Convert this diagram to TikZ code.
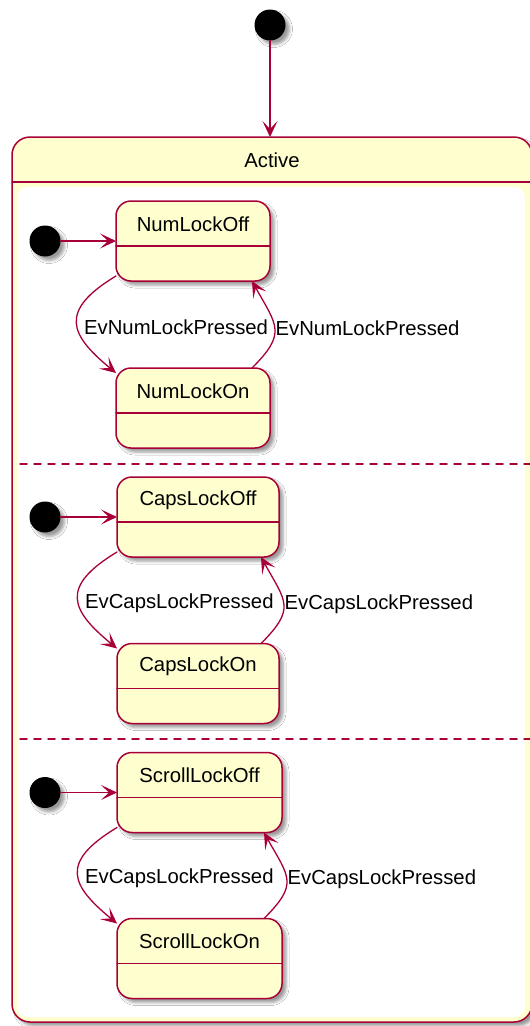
\documentclass[tikz,border=0pt]{standalone}
\usepackage{fontspec}
\setmainfont{Liberation Sans}
\usepackage{tikz}
\usetikzlibrary{arrows.meta,shadows.blur}
\definecolor{umlred}{HTML}{A80036}
\definecolor{umlfill}{HTML}{FEFECE}

\begin{document}
\begin{tikzpicture}[x=1pt,y=-1pt,>={Stealth[length=16pt,width=15pt,inset=8pt]},
  font=\fontsize{20.3}{24}\selectfont,line cap=round,
  shade/.style={blur shadow={shadow xshift=4pt,shadow yshift=-4pt,shadow blur radius=3pt,shadow opacity=40}},
  title/.style={label={[anchor=center,yshift=-23pt,inner sep=0pt]north:#1}},
  state/.style={draw=umlred,fill=umlfill,line width=1.5pt,rounded corners=15pt,
    minimum height=80pt,outer sep=0pt,inner sep=0pt,shade},
  init/.style={circle,fill=black,minimum size=31pt,inner sep=0pt,shade},
  trans/.style={->,draw=umlred,line width=1.3pt},
  lbl/.style={text=black,inner sep=2.5pt,anchor=west},
  sepline/.style={draw=umlred,line width=1.5pt},
  part/.style={draw=umlred,line width=1.5pt,dash pattern=on 7pt off 7pt}]
\clip (0,0) rectangle (530,1026);
\fill[white] (0,0) rectangle (530,1026);

\node[init] (start) at (270,25) {};
\node[draw=umlred,fill=umlfill,line width=1.5pt,rounded corners=18pt,minimum width=520pt,
  minimum height=885pt,outer sep=0pt,shade,title=Active] (active) at (272,579.5) {};
\draw[sepline] ([yshift=-45pt]active.north west) -- ([yshift=-45pt]active.north east);
\fill[white,rounded corners=10pt] ([shift={(5pt,-50pt)}]active.north west) rectangle ([shift={(-7pt,5pt)}]active.south east);
\draw[trans] (start) -- (start |- active.north);

\draw[part] (20,464) -- (530,464);
\draw[part] (20,739) -- (530,739);

\node[init] (ini1) at (45,241) {};
\node[state,minimum width=154pt,title=NumLockOff] (numoff) at (193,241) {};
\node[state,minimum width=154pt,title=NumLockOn] (numon) at (193,408) {};
\node[init] (ini2) at (45,517) {};
\node[state,minimum width=162pt,title=CapsLockOff] (capsoff) at (198,517) {};
\node[state,minimum width=162pt,title=CapsLockOn] (capson) at (198,683.5) {};
\node[init] (ini3) at (45,792.5) {};
\node[state,minimum width=165pt,title=ScrollLockOff] (scrolloff) at (199.5,792.5) {};
\node[state,minimum width=165pt,title=ScrollLockOn] (scrollon) at (199.5,958.5) {};

\foreach \s in {numoff,numon,capsoff,capson,scrolloff,scrollon}
  \draw[sepline] ([yshift=-45pt]\s.north west) -- ([yshift=-45pt]\s.north east);

\draw[trans] (ini1) -- (numoff);
\draw[trans] ([yshift=5pt]numoff.south west) .. controls +(-58,35) and +(-46,-38) .. ([yshift=-5pt]numon.north west)
  node[lbl,pos=.5,xshift=4pt,yshift=-4pt]{EvNumLockPressed};
\draw[trans] ([xshift=-18pt]numon.north east) .. controls +(35,-35) and +(25,45) .. ([xshift=-18pt]numoff.south east)
  node[lbl,pos=.5,xshift=-2pt]{EvNumLockPressed};

\draw[trans] (ini2) -- (capsoff);
\draw[trans] ([yshift=5pt]capsoff.south west) .. controls +(-58,35) and +(-46,-38) .. ([yshift=-5pt]capson.north west)
  node[lbl,pos=.5,xshift=4pt,yshift=-4pt]{EvCapsLockPressed};
\draw[trans] ([xshift=-18pt]capson.north east) .. controls +(35,-35) and +(25,45) .. ([xshift=-18pt]capsoff.south east)
  node[lbl,pos=.5,xshift=-2pt]{EvCapsLockPressed};

\draw[trans] (ini3) -- (scrolloff);
\draw[trans] ([yshift=5pt]scrolloff.south west) .. controls +(-58,35) and +(-46,-38) .. ([yshift=-5pt]scrollon.north west)
  node[lbl,pos=.5,xshift=4pt,yshift=-4pt]{EvCapsLockPressed};
\draw[trans] ([xshift=-18pt]scrollon.north east) .. controls +(35,-35) and +(25,45) .. ([xshift=-18pt]scrolloff.south east)
  node[lbl,pos=.5,xshift=-2pt]{EvCapsLockPressed};
\end{tikzpicture}
\end{document}
